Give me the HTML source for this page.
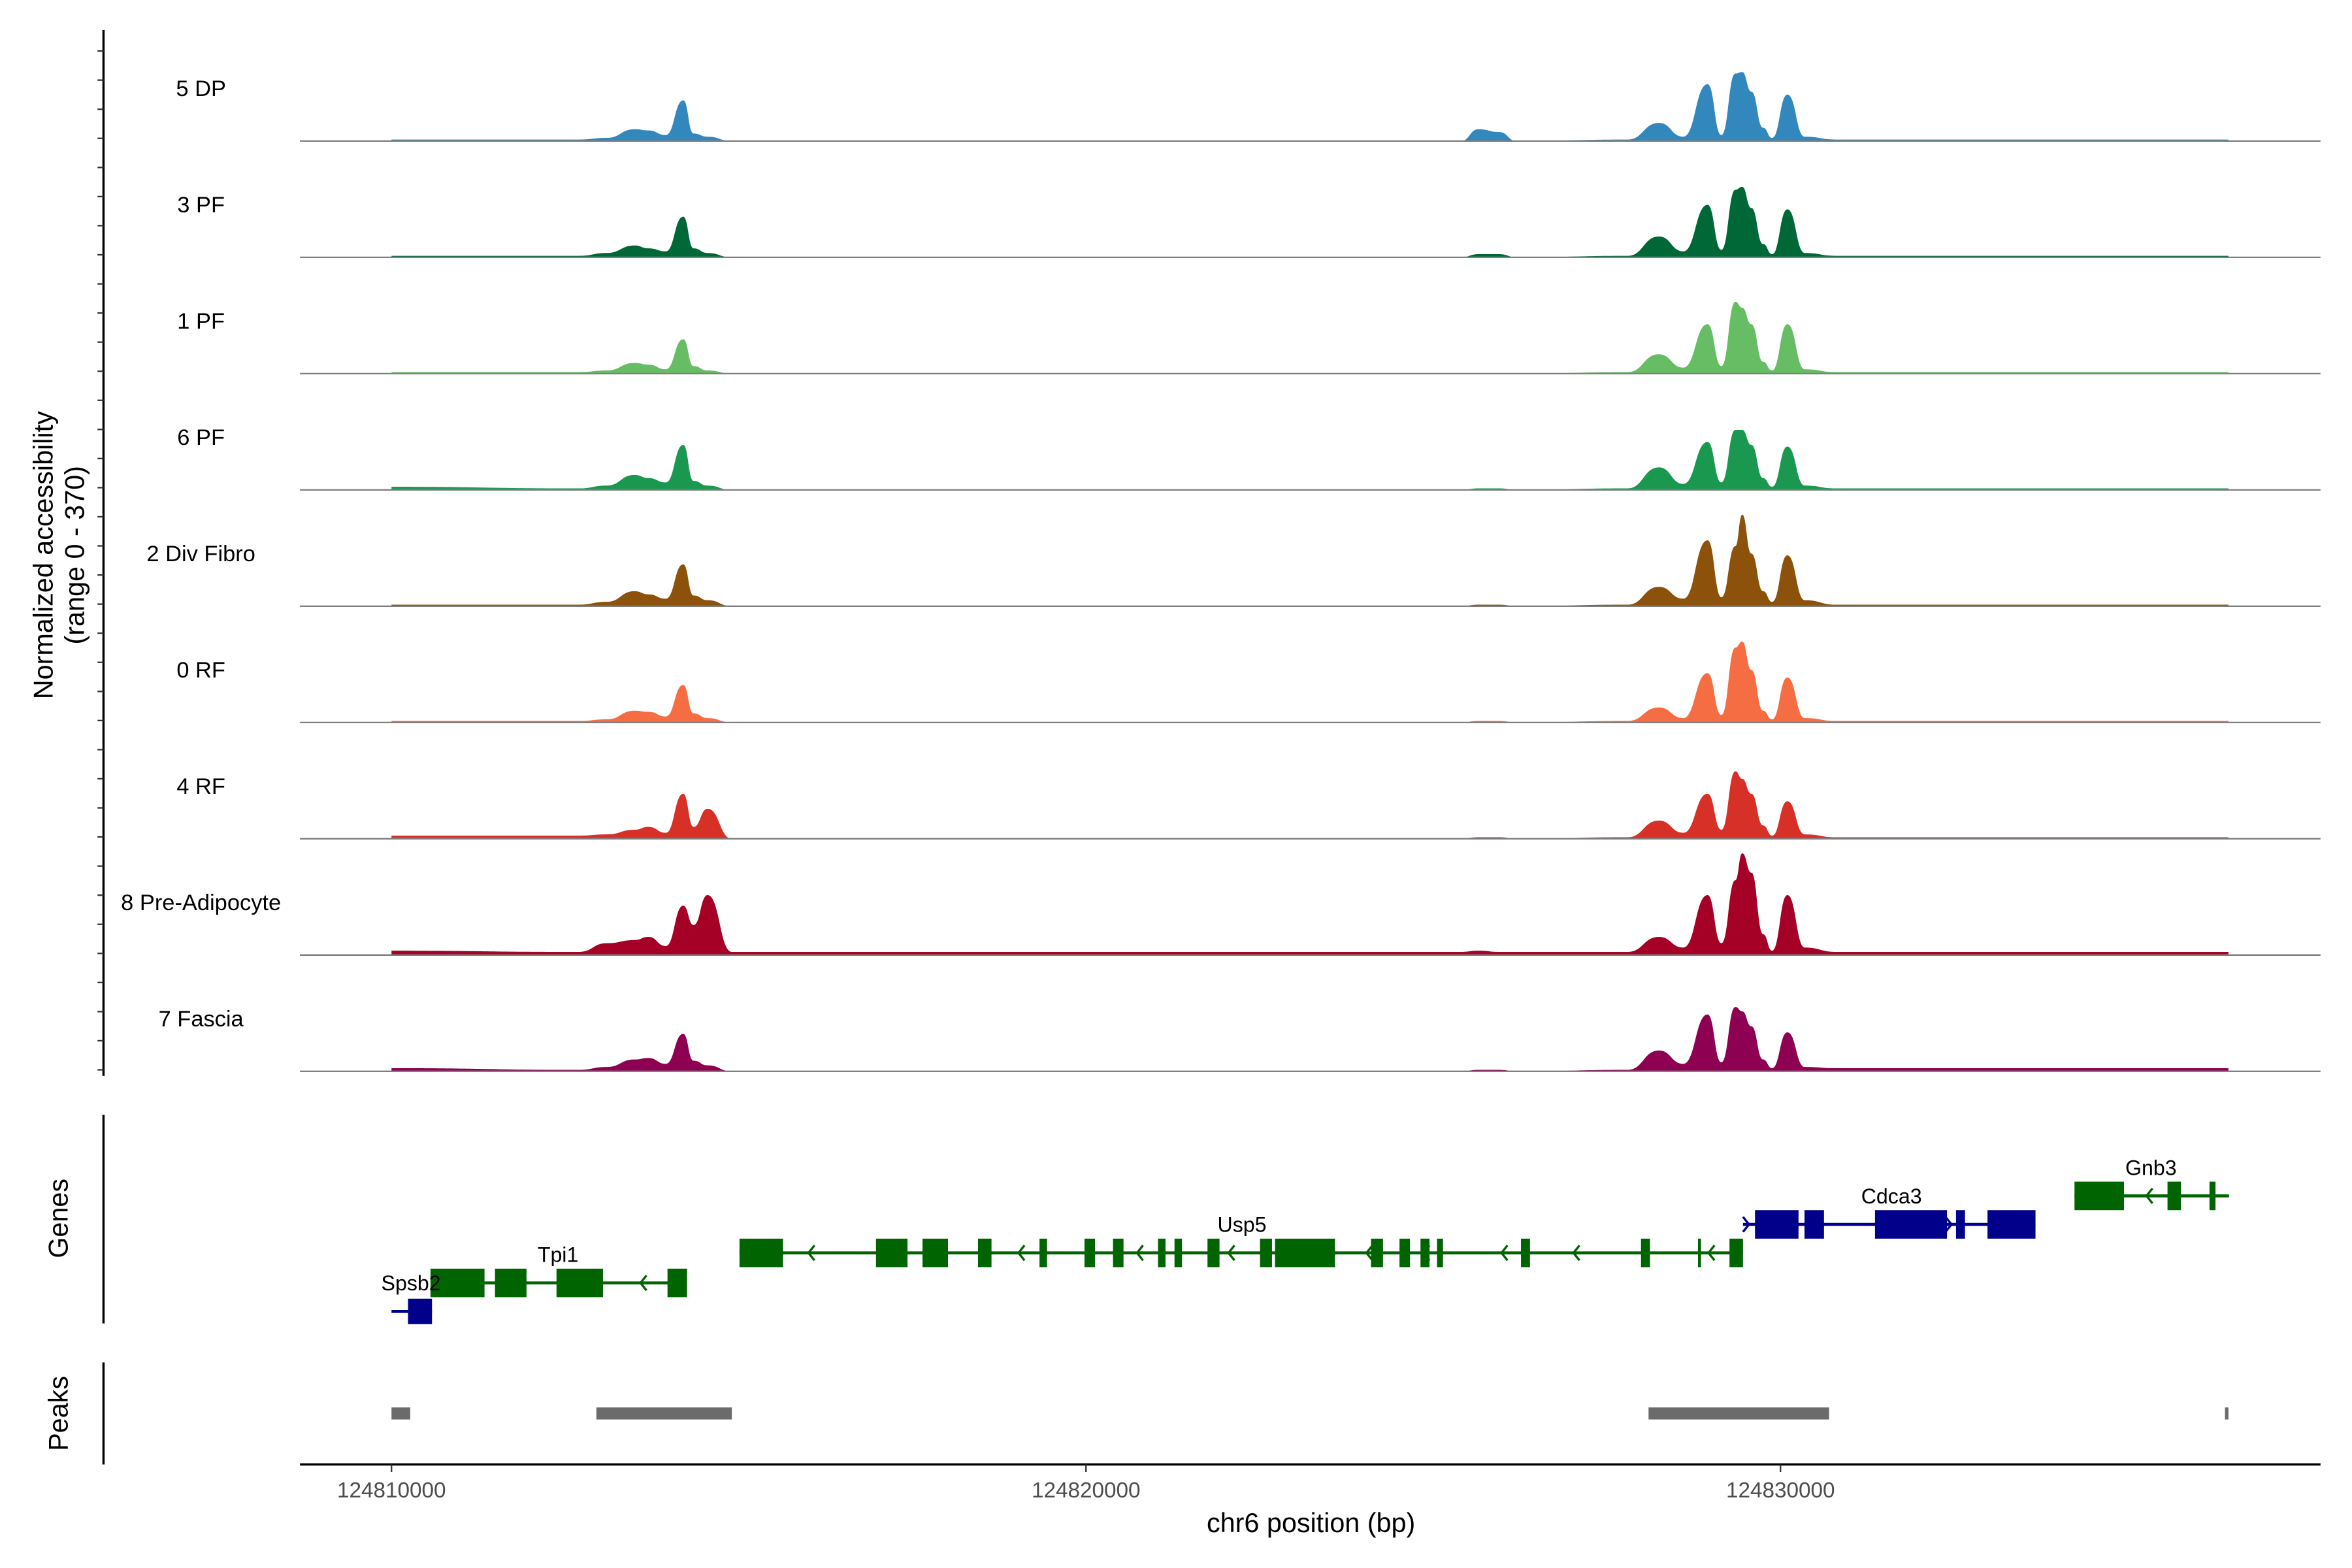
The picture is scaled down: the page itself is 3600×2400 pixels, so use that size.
<!DOCTYPE html>
<html><head><meta charset="utf-8"><style>
html,body{margin:0;padding:0;background:#fff;}
svg{display:block;font-family:"Liberation Sans",Arial,sans-serif;}
</style></head><body>
<svg id="chart" xmlns="http://www.w3.org/2000/svg" width="3600" height="2400" viewBox="0 0 1568 1045" preserveAspectRatio="none">
<rect width="1568" height="1045" fill="#fff"/>
<g id="tracks"></g>
<g id="yaxis"></g>
<text transform="translate(35,370) rotate(-90)" text-anchor="middle" font-size="18" fill="#000">Normalized accessibility</text>
<text transform="translate(56,370) rotate(-90)" text-anchor="middle" font-size="18" fill="#000">(range 0 - 370)</text>
<line x1="69" y1="743" x2="69" y2="882" stroke="#000" stroke-width="1.5"/>
<text transform="translate(45,812) rotate(-90)" text-anchor="middle" font-size="18">Genes</text>
<line x1="69" y1="908" x2="69" y2="976" stroke="#000" stroke-width="1.5"/>
<text transform="translate(45,942) rotate(-90)" text-anchor="middle" font-size="18">Peaks</text>
<g id="genes"></g>
<g id="genelabels"></g>
<g id="peaks"></g>
<g id="xaxis"></g>
<text x="874" y="1021" text-anchor="middle" font-size="18">chr6 position (bp)</text>
</svg>
<script>
// genomic positions in kb offset from 124810000
const positions = [0.0,2.7,3.1,3.5,3.7,3.95,4.2,4.35,4.55,4.9,15.4,15.65,15.95,16.2,17.8,18.25,18.6,18.95,19.15,19.35,19.45,19.58,19.75,19.88,20.1,20.35,20.8,26.45];
const trackNames = ["5 DP","3 PF","1 PF","6 PF","2 Div Fibro","0 RF","4 RF","8 Pre-Adipocyte","7 Fascia"];
const trackColors = ["#3288bd","#006837","#66bd63","#1a9850","#8c510a","#f46d43","#d73027","#a50026","#8e0152"];
const vDP   = [5,5,10,38,34,19,130,24,14,0,0,38,29,0,5,58,14,182,19,216,221,158,43,10,149,14,5,5];
const v3PF  = [5,5,14,38,29,19,130,29,14,0,0,10,10,0,5,67,19,168,24,216,226,158,43,10,154,14,5,5];
const v1PF  = [5,5,10,34,29,14,110,24,10,0,0,0,0,0,5,62,19,158,24,230,211,158,38,10,158,14,5,5];
const v6PF  = [10,5,14,48,38,24,144,29,14,0,0,5,5,0,5,72,19,154,24,192,192,144,38,10,139,14,5,5];
const v2Div = [5,5,14,48,38,24,134,34,19,0,0,5,5,0,5,62,24,211,29,192,293,168,48,14,163,19,5,5];
const v0RF  = [5,5,10,38,34,19,120,29,14,0,0,5,5,0,5,48,14,158,24,240,259,168,38,10,144,14,5,5];
const v4RF  = [10,10,14,29,38,19,144,38,96,0,0,5,5,0,5,58,19,144,29,216,192,144,43,10,120,14,5,5];
const v8Pre = [14,10,38,48,58,29,158,96,192,10,10,14,10,10,10,58,24,192,38,240,326,264,67,14,192,24,10,10];
const v7Fas = [10,5,14,38,43,24,120,34,19,0,0,5,5,0,5,67,24,182,29,206,192,144,38,10,125,14,10,10];
const trackValues = [vDP,v3PF,v1PF,v6PF,v2Div,v0RF,v4RF,v8Pre,v7Fas];
const xTicks = [0,10,20];
const xTickLabels = ["124810000","124820000","124830000"];
const peakStarts = [0.0,2.95,18.1,26.4];
const peakEnds   = [0.27,4.9,20.7,26.45];

const NS="http://www.w3.org/2000/svg";
const xs = kb => 261 + kb*46.3;
const YMAX=370, TH=77;
function mk(tag,attrs,parent){const e=document.createElementNS(NS,tag);for(const k in attrs)e.setAttribute(k,attrs[k]);parent.appendChild(e);return e;}

const tracks=document.getElementById('tracks');
trackNames.forEach((nm,i)=>{
  const base=94+i*77.5;
  const g=mk('g',{},tracks);
  
  
  const vals=trackValues[i];
  const pts=positions.map((p,j)=>[xs(p),base-vals[j]*TH/YMAX]);
  let d='M'+pts[0][0]+','+base+' L'+pts[0][0].toFixed(1)+','+pts[0][1].toFixed(1);
  for(let j=1;j<pts.length;j++){
    const a=pts[j-1],b=pts[j],mx=(a[0]+b[0])/2;
    d+=` C${mx.toFixed(1)},${a[1].toFixed(1)} ${mx.toFixed(1)},${b[1].toFixed(1)} ${b[0].toFixed(1)},${b[1].toFixed(1)}`;
  }
  d+=' L'+pts[pts.length-1][0]+','+base+' Z';
  const a=mk('path',{d:d,fill:trackColors[i]},g);
  
  
  const l=mk('line',{x1:200,x2:1547,y1:base,y2:base,stroke:'#7f7f7f','stroke-width':1},g);
  
  
  const t=mk('text',{x:134,y:base-30,'text-anchor':'middle','font-size':15,fill:'#000'},g);
  t.textContent=nm;
  
  
});

const ya=document.getElementById('yaxis');
mk('line',{x1:69,y1:20,x2:69,y2:717,stroke:'#000','stroke-width':1.5},ya);
for(let y=34;y<=716;y+=19.4){const tk=mk('line',{x1:65,x2:69,y1:y,y2:y,stroke:'#333','stroke-width':1},ya);
  
  }

const genes=[
 ["Spsb2","#00008b",874,261,288,274,860,[[272,288]],[],1],
 ["Tpi1","#006400",855,288,458,372,841,[[287,323],[330,351],[371,402],[445,458]],[428],-1],
 ["Usp5","#006400",835,493,1162,828,821,[[493,522],[584,605],[615,632],[652,661],[693,698],[723,730],[742,749],[772,777],[783,788],[805,813],[840,848],[850,890],[914,922],[933,940],[947,953],[958,962],[1014,1020],[1094,1100],[1132,1134],[1153,1162]],[540,680,759,820,912,950,1002,1050,1140],-1],
 ["Cdca3","#00008b",816,1162,1357,1261,802,[[1170,1199],[1203,1216],[1250,1298],[1304,1310],[1325,1357]],[1165,1300],1],
 ["Gnb3","#006400",797,1383,1486,1434,783,[[1383,1416],[1445,1454],[1473,1477]],[1432],-1]
];
const gg=document.getElementById('genes');
const gl=document.getElementById('genelabels');
genes.forEach(gn=>{
  const [nm,col,y,x1,x2,lx,ly,ex,arr,dir]=gn;
  const g=mk('g',{},gg);
  
  
  mk('line',{x1:x1,x2:x2,y1:y,y2:y,stroke:col,'stroke-width':2},g);
  const h=(nm==="Spsb2")?8.5:9.5;
  ex.forEach(e=>{const r=mk('rect',{x:e[0],y:y-h,width:e[1]-e[0],height:2*h,fill:col},g);
    
    });
  arr.forEach(ax=>{mk('path',{d:`M${ax-dir*3},${y-5} L${ax+dir*1},${y} L${ax-dir*3},${y+5}`,fill:'none',stroke:col,'stroke-width':1.5},g);});
  const t=mk('text',{x:lx,y:ly,'text-anchor':'middle','font-size':14},gl);
  t.textContent=nm;
  
  
});

const pk=document.getElementById('peaks');
peakStarts.forEach((s,i)=>{const r=mk('rect',{x:xs(s),y:938,width:Math.max(2,xs(peakEnds[i])-xs(s)),height:8,fill:'#6b6b6b'},pk);
  
  });

const xa=document.getElementById('xaxis');
mk('line',{x1:200,x2:1547,y1:976,y2:976,stroke:'#000','stroke-width':1.5},xa);
xTicks.forEach((t,i)=>{
  mk('line',{x1:xs(t),x2:xs(t),y1:976,y2:981,stroke:'#333'},xa);
  const tx=mk('text',{x:xs(t),y:998,'text-anchor':'middle','font-size':14.5,fill:'#4d4d4d'},xa);
  tx.textContent=xTickLabels[i];
  
  
});
</script>
</body></html>
